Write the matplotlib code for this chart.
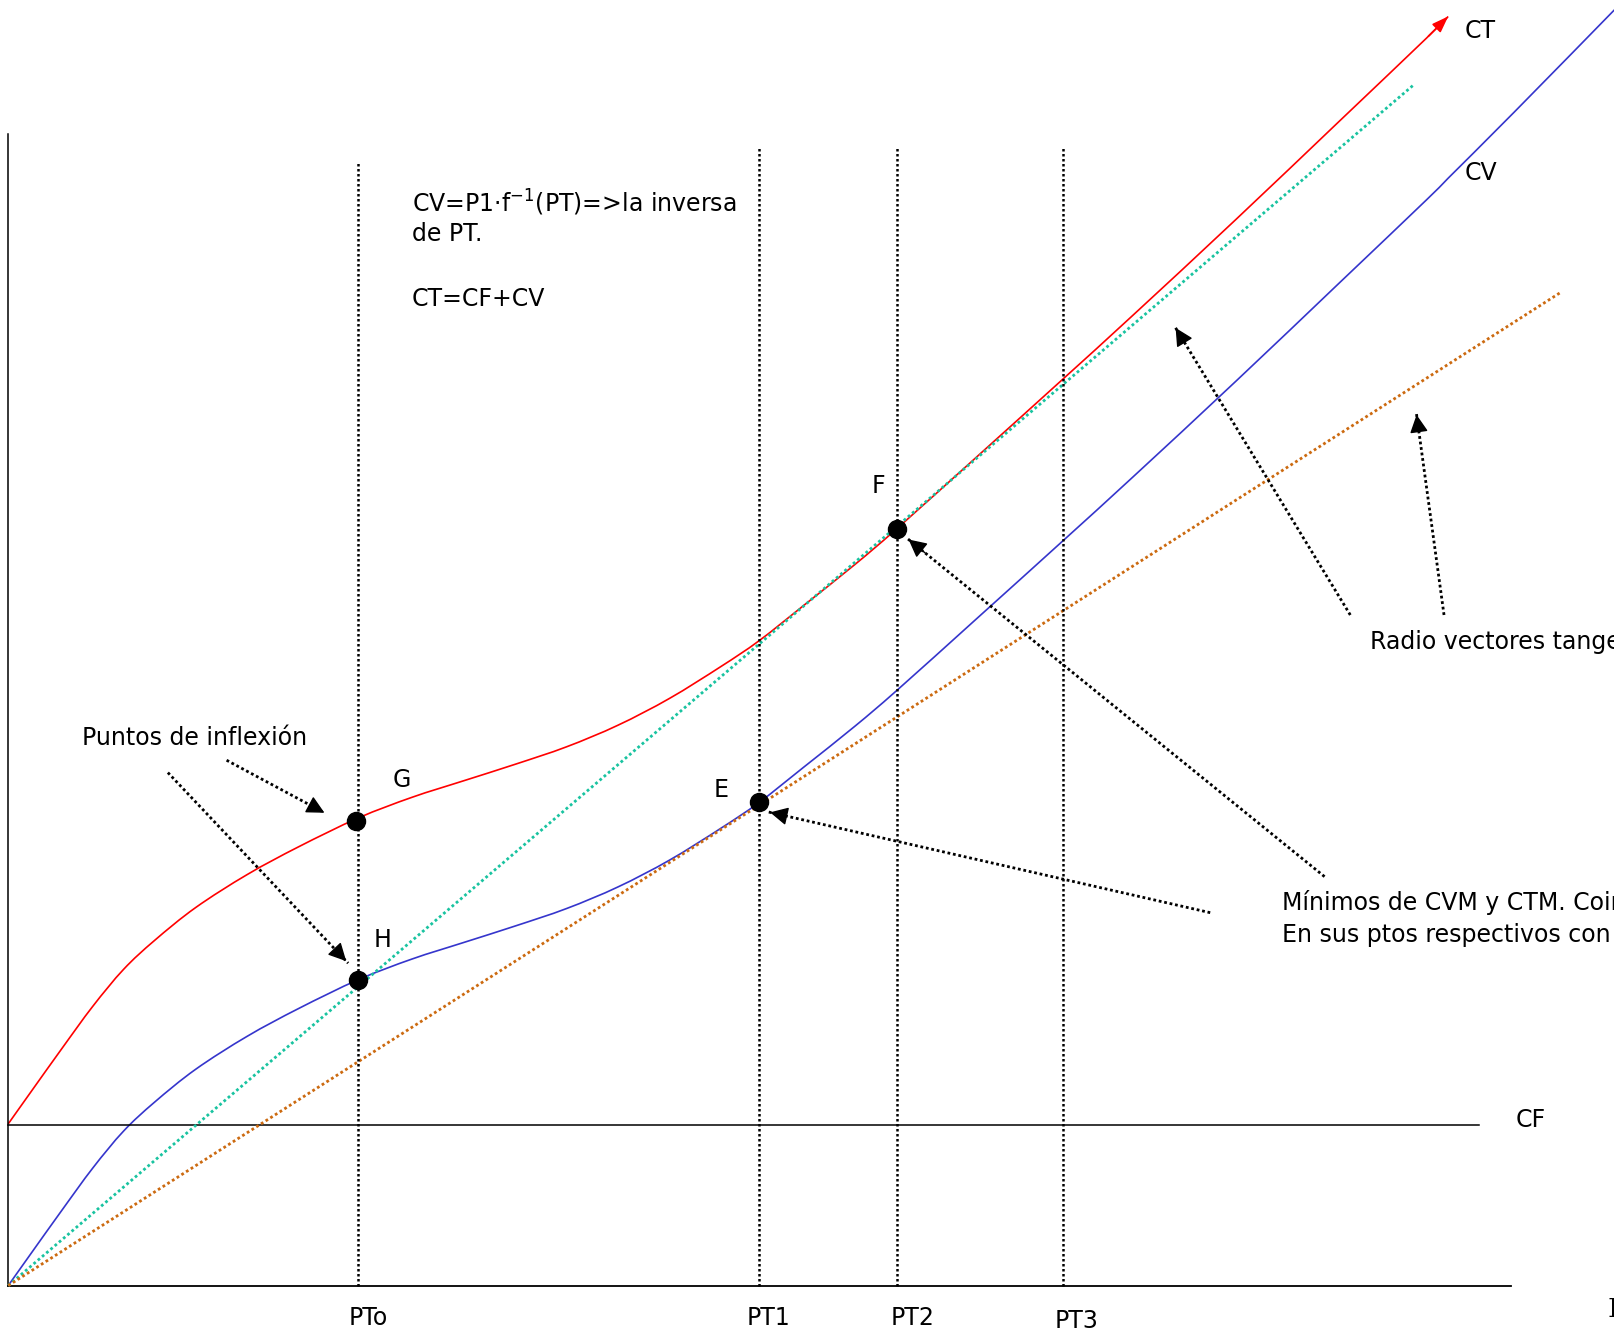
import matplotlib.pyplot as plt
import numpy as np
from matplotlib.path import Path
from matplotlib.patches import PathPatch

plt.rcParams['font.family'] = ['DejaVu Sans']

# quantity axis and cost curves (units)
q = [0, 22, 52, 82, 112, 142, 182, 232, 282, 340, 392, 442, 492, 542, 592,
     642, 692, 729, 772, 822, 863, 942, 1024, 1092, 1192, 1292, 1377, 1398,
     1462, 1560]
cv = [0, 31, 73, 114, 150, 178, 210, 242, 269, 297, 317, 333, 349, 366, 387,
      413, 444, 469, 503, 543, 578, 649, 723, 785, 878, 973, 1054, 1075,
      1139, 1239]
ct = [157, 188, 230, 271, 307, 335, 367, 399, 426, 454, 474, 490, 506, 523,
      544, 570, 601, 626, 660, 700, 735, 806, 880, 942, 1035, 1130, 1211, 1232]
cf = 156

# radio vectores from the origin
ray_ctm = ([0, 1365], [0, 1166])
ray_cvm = ([0, 1507], [0, 964])

# vertical reference quantities
pt_names = ['PTo', 'PT1', 'PT2', 'PT3']
pt_q = [340, 729, 863, 1024]
pt_top = [1090, 1105, 1105, 1105]

# marked points
pts = {'G': (338, 451), 'H': (340, 297), 'E': (729, 469), 'F': (863, 734)}
pt_lbl = {'G': (382, 491), 'H': (363, 335), 'E': (692, 481), 'F': (845, 776)}

# dotted pointer arrows: (tail, head)
pointers = [((212, 510), (307, 459)),
            ((155, 498), (330, 313)),
            ((1167, 362), (737, 460)),
            ((1278, 397), (872, 726)),
            ((1303, 651), (1132, 932)),
            ((1394, 651), (1367, 848))]


def smooth_path(xs, ys):
    # bezier curve passing through the given points (Catmull-Rom tangents)
    p = np.column_stack([xs, ys]).astype(float)
    p_ext = np.vstack([p[0], p, p[-1]])
    verts = [p[0]]
    codes = [Path.MOVETO]
    for i in range(len(p) - 1):
        a, b, c, d = p_ext[i], p_ext[i + 1], p_ext[i + 2], p_ext[i + 3]
        verts += [b + (c - a) / 6, c - (d - b) / 6, c]
        codes += [Path.CURVE4] * 3
    return Path(verts, codes)


fig = plt.figure(figsize=(16.15, 13.34), dpi=100)
ax = fig.add_axes([0, 0, 1, 1])
ax.set_xlim(-8, 1560)
ax.set_ylim(-47, 1248)
ax.axis('off')

fs = 17

# axes and CF
ax.plot([0, 0], [0, 1118], color='black', lw=1.1)
ax.plot([0, 1459], [0, 0], color='black', lw=1.3)
ax.plot([0, 1428], [cf, cf], color='black', lw=1.1)

# rays
ax.plot(*ray_ctm, color='#19c3a0', lw=2, ls=(0, (1, 1)))
ax.plot(*ray_cvm, color='#cc6a10', lw=2, ls=(0, (1, 1)))

# vertical dotted lines
for name, x, top in zip(pt_names, pt_q, pt_top):
    ax.plot([x, x], [0, top], color='black', lw=1.8, ls=(0, (1, 1)))

# curves
ax.add_patch(PathPatch(smooth_path(q, cv), fill=False, ec='#3535cc', lw=1.2))
ax.add_patch(PathPatch(smooth_path(q[:len(ct)], ct), fill=False, ec='#ff0000',
                       lw=1.2))
ax.annotate('', xy=(q[len(ct) - 1] + 2, ct[-1] + 2),
            xytext=(q[len(ct) - 2], ct[-2]),
            arrowprops=dict(arrowstyle='-|>,head_length=0.5,head_width=0.18',
                            color='#ff0000', lw=1.2, mutation_scale=20))

# points
for k, (x, y) in pts.items():
    ax.plot(x, y, 'o', color='black', ms=13)
    lx, ly = pt_lbl[k]
    ax.text(lx, ly, k, fontsize=fs, ha='center', va='center')

# pointer arrows
for (x0, y0), (x1, y1) in pointers:
    ax.plot([x0, x1], [y0, y1], color='black', lw=2, ls=(0, (1, 1)))
    dx, dy = x1 - x0, y1 - y0
    ax.annotate('', xy=(x1, y1), xytext=(x1 - dx * 0.05, y1 - dy * 0.05),
                arrowprops=dict(arrowstyle='-|>,head_length=0.55,head_width=0.28',
                                color='black', lw=1, mutation_scale=20))

# labels
ax.text(1414, 1218, 'CT', fontsize=fs, va='center')
ax.text(1414, 1080, 'CV', fontsize=fs, va='center')
ax.text(1464, 161, 'CF', fontsize=fs, va='center')
pt_lx = [350, 738, 878, 1037]
pt_ly = [-31, -31, -31, -34]
for name, x, y in zip(pt_names, pt_lx, pt_ly):
    ax.text(x, y, name, fontsize=fs, ha='center', va='center')

ax.text(392, 1051, 'CV=P1·f$^{-1}$(PT)=>la inversa', fontsize=fs, va='center')
ax.text(392, 1021, 'de PT.', fontsize=fs, va='center')
ax.text(392, 958, 'CT=CF+CV', fontsize=fs, va='center')

ax.text(72, 532, 'Puntos de inflexión', fontsize=fs, va='center')
ax.text(1322, 625, 'Radio vectores tangentes', fontsize=fs, va='center')
ax.text(1237, 372, 'Mínimos de CVM y CTM. Coinciden', fontsize=fs, va='center')
ax.text(1237, 340, 'En sus ptos respectivos con', fontsize=fs, va='center')
ax.text(1553, -23, 'Fig', fontsize=fs + 2, family='DejaVu Serif', va='center')

fig.savefig('out.png', dpi=100)
